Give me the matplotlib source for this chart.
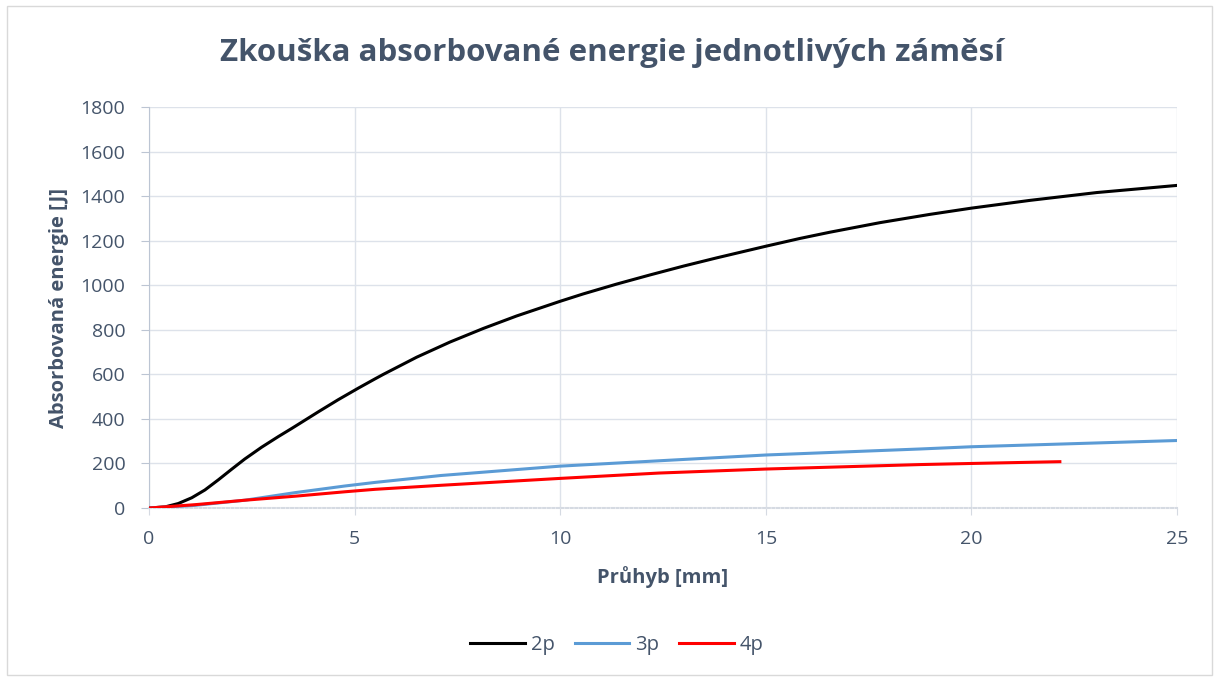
import matplotlib.pyplot as plt
from matplotlib.patches import Rectangle

# Průhyb [mm] a absorbovaná energie [J] pro jednotlivé záměsi
x_2p = [0, 0.39, 0.71, 1.04, 1.36, 1.69, 2.01, 2.33, 2.74, 3.14, 3.47, 3.67, 4.12, 4.60, 5.09, 5.50,
        5.70, 6.51, 7.32, 8.13, 8.94, 10.0, 10.56, 11.37, 12.18, 13.0, 13.81, 15.0, 15.83,
        16.56, 17.78, 18.99, 20.0, 21.43, 23.05, 25.0]
y_2p = [0, 5, 20, 46, 81, 127, 174, 220, 273, 320, 357, 380, 432, 486, 538, 580,
        600, 677, 745, 806, 862, 928, 961, 1005, 1046, 1086, 1123, 1175, 1210,
        1238, 1281, 1318, 1346, 1381, 1416, 1448]

x_3p = [0, 1.12, 2.33, 3.55, 4.77, 5.5, 7.1, 10, 12.4, 15, 18.75, 20, 25]
y_3p = [0, 12, 35, 69, 99, 115, 146, 188, 212, 238, 265, 275, 303]

x_4p = [0, 1.12, 2.33, 3.55, 4.77, 5.5, 7.1, 10, 12.4, 15, 18.75, 20, 22.15]
y_4p = [0, 15, 35, 53, 73, 84, 102, 133, 157, 175, 195, 200, 208]

x_ticks = [0, 5, 10, 15, 20, 25]
y_ticks = [0, 200, 400, 600, 800, 1000, 1200, 1400, 1600, 1800]

TEXT = '#44546A'
GRID = '#DDE2EA'

plt.rcParams['font.family'] = ['Open Sans', 'DejaVu Sans']

fig = plt.figure(figsize=(12.19, 6.81), dpi=100)
ax = fig.add_axes([0.1222, 0.254, 0.8434, 0.5889])

# outer chart frame
fig.patches.append(Rectangle((0.006, 0.009), 0.988, 0.982, transform=fig.transFigure,
                             fill=False, edgecolor='#D9D9D9', linewidth=1.0))

ax.plot(x_2p, y_2p, color='black', linewidth=2.2, label='2p', zorder=3,
        solid_joinstyle='round')
ax.plot(x_3p, y_3p, color='#5B9BD5', linewidth=2.2, label='3p', zorder=3,
        solid_joinstyle='round')
ax.plot(x_4p, y_4p, color='#FF0000', linewidth=2.2, label='4p', zorder=4,
        solid_joinstyle='round')

ax.set_xlim(0, 25)
ax.set_ylim(0, 1800)
ax.set_xticks(x_ticks)
ax.set_yticks(y_ticks)
ax.grid(True, color=GRID, linewidth=1.0)
ax.set_axisbelow(True)

for side in ['top', 'right']:
    ax.spines[side].set_visible(False)
ax.spines['left'].set_color('#BCC5D3')
ax.spines['bottom'].set_color('#D5DAE2')
ax.spines['bottom'].set_linestyle((0, (1, 1.2)))
ax.spines['bottom'].set_linewidth(1.5)

ax.tick_params(axis='y', colors='#BCC5D3', labelcolor=TEXT, labelsize=14, length=6, pad=11)
ax.tick_params(axis='x', colors='#D5DAE2', labelcolor=TEXT, labelsize=14, length=5, pad=11)

ax.set_xlabel('Průhyb [mm]', fontsize=14.5, fontweight='bold', color=TEXT, labelpad=13)
ax.set_ylabel('Absorbovaná energie [J]', fontsize=14.5, fontweight='bold', color=TEXT, labelpad=8)

fig.text(0.502, 0.922, 'Zkouška absorbované energie jednotlivých záměsí', ha='center', va='center',
         fontsize=22.5, fontweight='bold', color=TEXT)

fig.legend(loc='center', bbox_to_anchor=(0.506, 0.053), ncol=3, frameon=False,
           fontsize=14.5, handlelength=2.7, columnspacing=1.0, handletextpad=0.3,
           labelcolor=TEXT)

fig.savefig('out.png', dpi=100)
